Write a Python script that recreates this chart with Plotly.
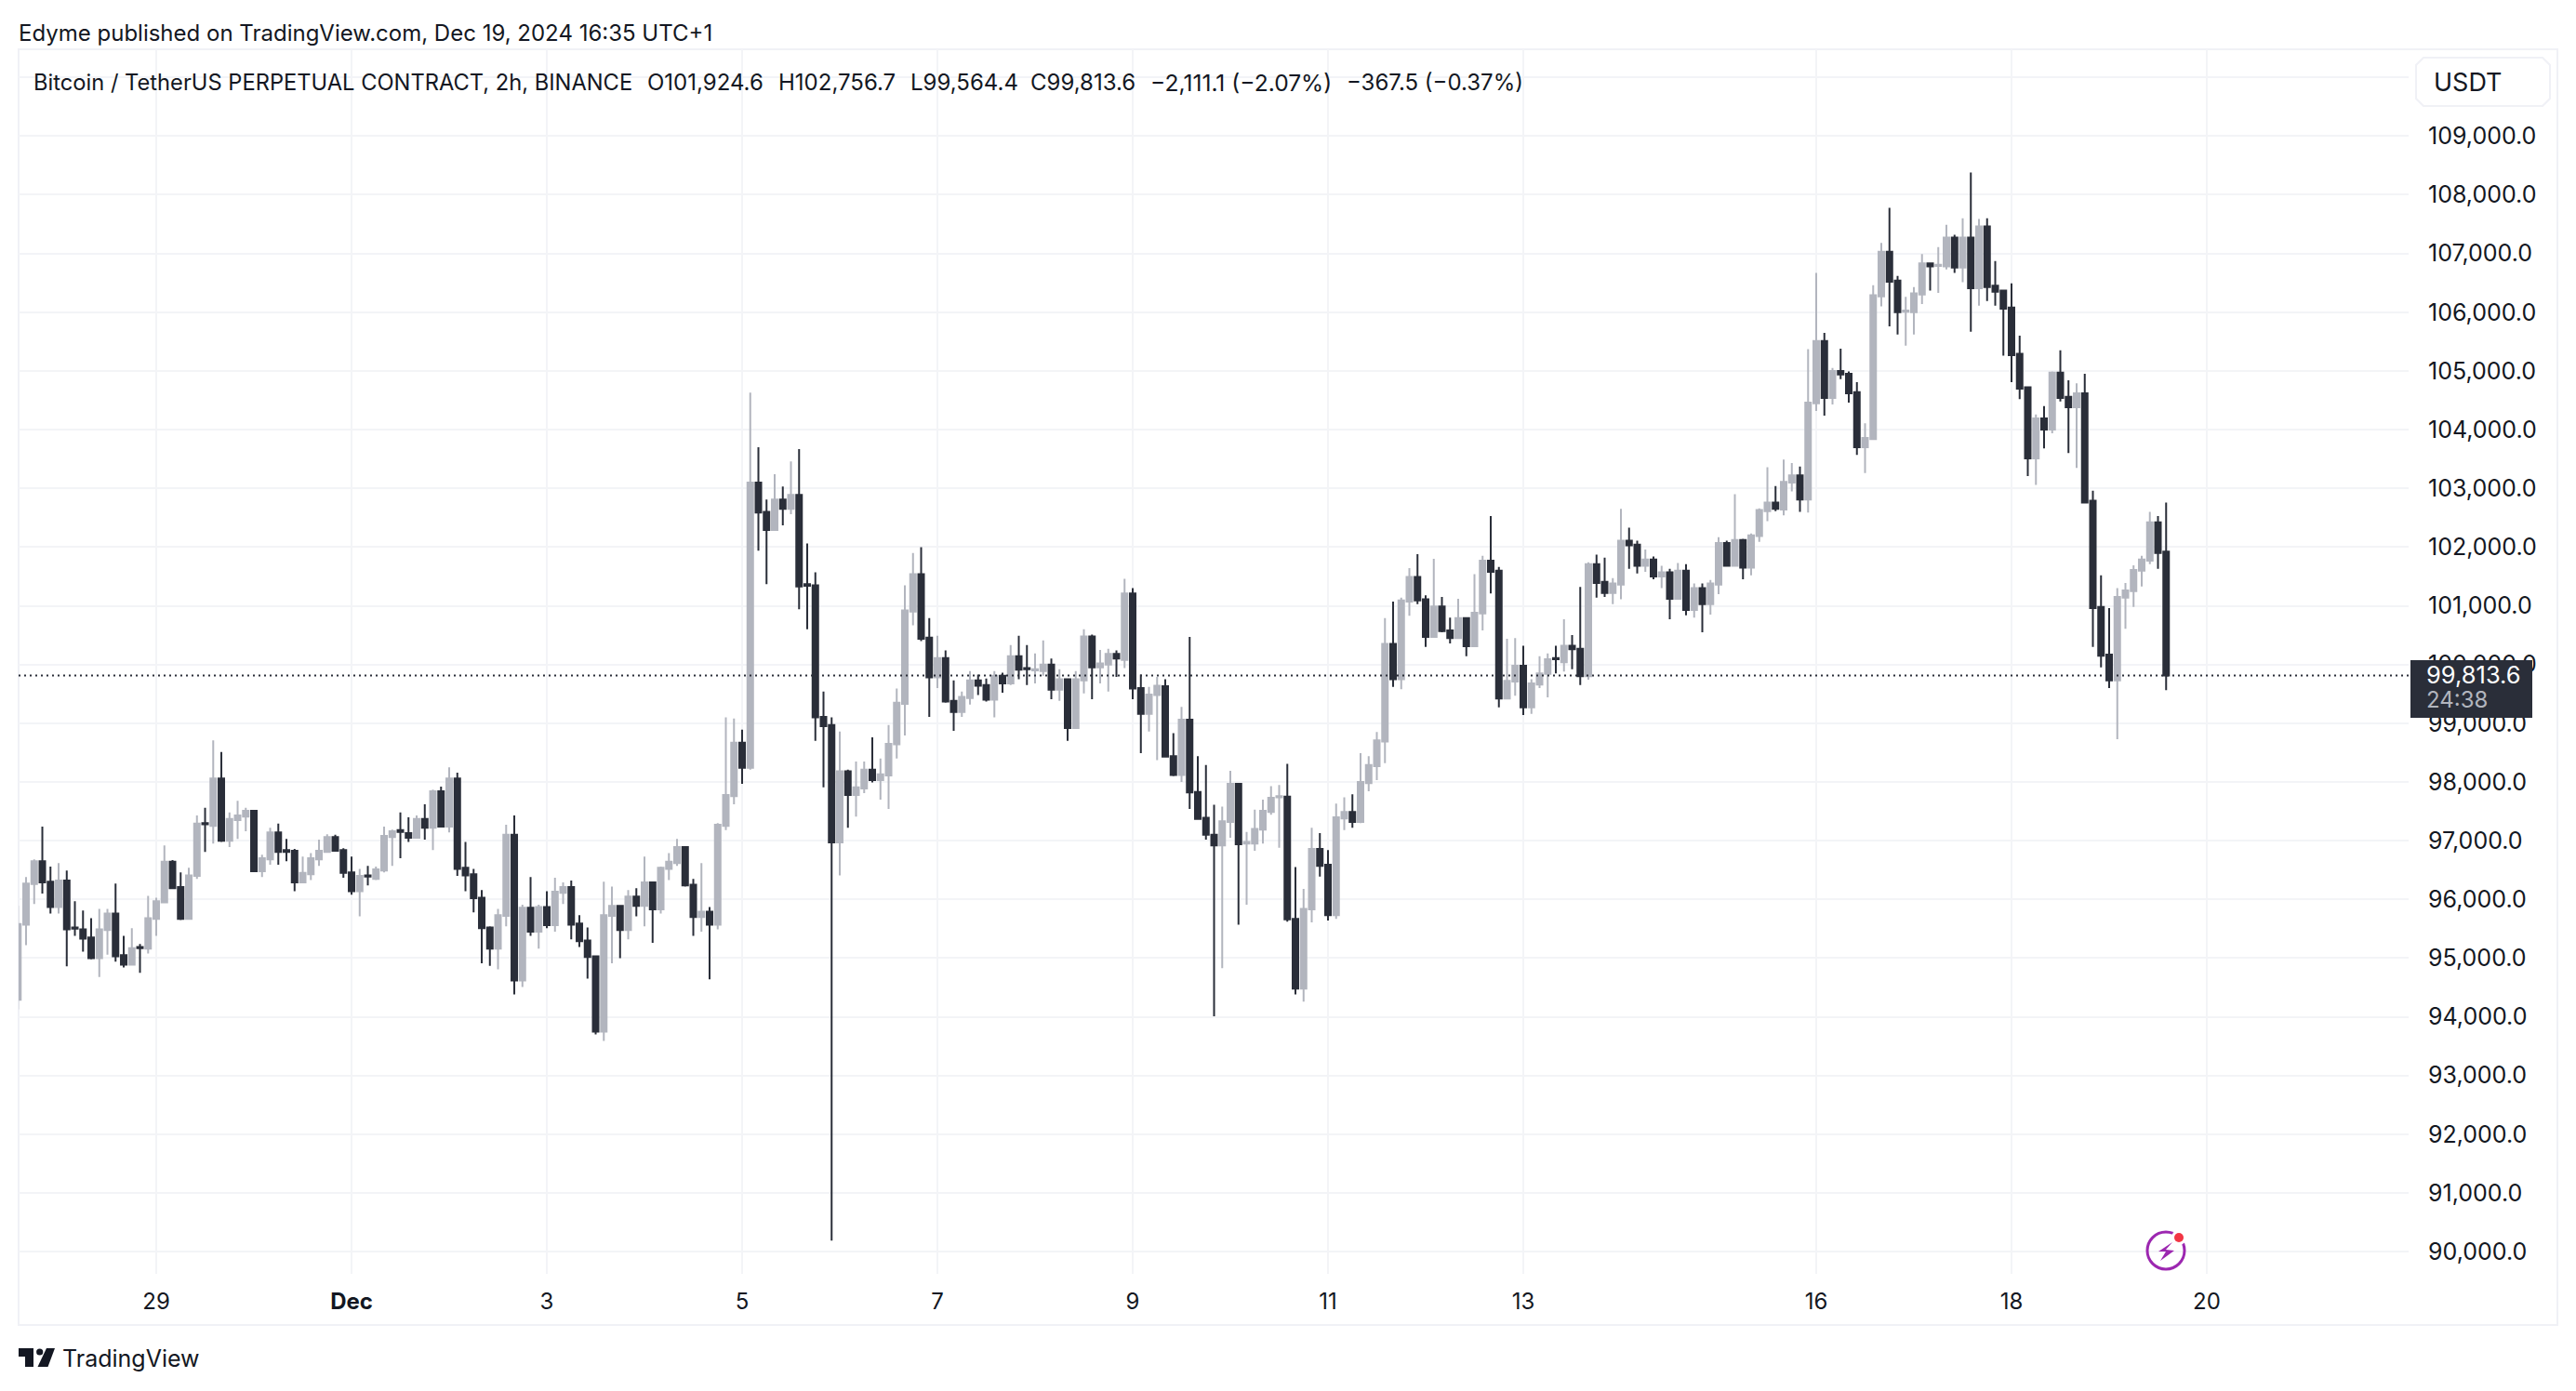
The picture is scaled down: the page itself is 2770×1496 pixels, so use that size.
import pandas as pd
import plotly.graph_objects as go

W, H = 2770, 1496
L_PX, R_PX, T_PX, B_PX = 20, 2590, 53, 1370

open_ = [
 94290,95570,96260,96650,96300,95870,96320,95520,95490,95350,
 95000,95480,95760,95050,94890,95190,95160,95670,95950,96640,
 96210,95670,96400,97300,97250,98060,97000,97350,97410,97510,
 96480,96680,97140,96840,96830,96290,96430,96680,96810,97060,
 96840,96460,96140,96410,96350,96490,97060,97180,97130,97050,
 97370,97220,97840,97240,98060,96540,96430,96030,95520,95160,
 95720,97100,94620,95860,95450,95870,95560,96110,96210,95590,
 95300,95030,93750,95720,95890,95480,96050,95890,96290,95830,
 96520,96620,96890,96250,95700,95790,95570,97250,97760,98670,
 98240,103100,102600,102290,102810,102650,102890,101370,101350,99110,
 98970,96970,98180,97780,97890,98210,98030,98110,98640,99330,
 100900,101540,100460,99780,100110,99380,99190,99430,99730,99650,
 99400,99810,99680,100140,99940,99900,99890,100000,99570,99750,
 98920,99730,100480,99950,100000,100180,100080,101210,99600,99160,
 99480,99630,98440,98120,99060,97830,97390,97100,96920,97320,
 97970,96950,96950,97190,97490,97740,97750,95670,94480,95830,
 96860,96590,95730,97380,97490,97320,97980,98270,98690,100350,
 99750,101070,101490,101110,100470,100990,100580,100450,100790,100310,
 100870,101770,101600,99420,99710,99980,99270,99660,99840,100110,
 100040,100320,100270,99800,101710,101410,101220,101360,102110,102040,
 101680,101790,101500,101570,101120,101600,100930,101300,101030,101360,
 102070,101680,102120,101650,102190,102610,102760,102640,103100,103220,
 102810,104450,105510,104540,105000,104950,104640,103700,103840,106270,
 107030,106540,106010,106000,106300,106830,106790,106780,107270,106760,
 107270,106410,107460,106450,106370,106080,105290,104720,103510,104190,
 104000,104970,104560,104380,104620,102790,100980,100170,99730,101140,
 101250,101600,101770,102420,101924.6]

high = [
 95890,96380,96680,97240,96560,96620,96490,95970,95810,95680,
 95840,95840,96270,95380,95510,95240,96060,96030,96920,96670,
 96460,96540,97430,97560,98710,98510,97480,97680,97560,97510,
 96760,97220,97290,97030,96860,96730,96790,97020,97110,97100,
 96870,96730,96520,96570,96560,97240,97190,97480,97400,97430,
 97620,97870,97920,98250,98160,96980,96520,96160,95540,95840,
 97270,97430,95910,96380,95910,96140,96370,96290,96320,95730,
 95520,95030,96300,96220,95890,96160,96190,96730,96300,96560,
 96790,97030,96900,96350,96620,95870,97300,99100,99080,98890,
 104630,103700,102810,103240,103030,103460,103670,102060,101570,99540,
 99100,98860,98210,98350,98350,98760,98400,98970,99590,101350,
 101900,102000,100790,100490,100240,99730,99540,99890,99830,99760,
 99890,99860,100330,100490,100330,100190,100410,100100,99920,99760,
 99890,100600,100510,100250,100270,100240,101460,101300,99830,99620,
 99790,99750,98830,99280,100470,98440,98290,97610,97580,98190,
 97970,97150,97530,97700,97930,97950,98310,96550,96180,97220,
 97130,96840,97630,97740,97790,98490,98440,98850,100790,101070,
 101140,101640,101880,101180,101800,101150,100800,101120,100790,101540,
 101850,102530,101660,100440,100450,100320,99750,100140,100190,100320,
 100770,100500,101320,101740,101870,101820,101470,102650,102330,102110,
 101960,101840,101680,101630,101730,101710,101380,101380,101440,102170,
 102110,102900,102140,102230,102660,103360,103040,103490,103430,103370,
 105370,106670,105650,105050,105380,104990,104810,104110,106460,107180,
 107780,106620,106260,106430,106990,106830,107110,107490,107320,107600,
 108380,107590,107600,106870,106380,106490,105600,104720,104260,104400,
 104990,105350,104840,104790,104950,102960,101520,100960,101300,101390,
 101690,101850,102600,102530,102756.7]

low = [
 94130,95220,95920,96100,95760,95760,94860,95380,95110,94980,
 94680,95060,94940,94840,94890,94750,95080,95380,95950,96190,
 95650,95670,96350,96810,96950,96980,96890,97030,97160,96480,
 96380,96590,96590,96650,96140,96290,96330,96570,96810,96830,
 96370,96080,95710,96240,96330,96460,96570,96700,96980,97050,
 97020,96840,97240,97140,96400,96140,95780,94910,94870,94810,
 95540,94380,94510,95380,95160,95510,95450,95920,95320,95190,
 94650,93700,93590,94910,95000,95320,95710,95540,95260,95760,
 96330,96570,96220,95380,95450,94640,95490,97180,97620,97970,
 98210,101940,101370,102290,102370,102560,100940,100600,98700,97910,
 90190,96410,97220,97410,97810,97990,97700,97540,98400,98790,
 100670,100400,99110,99600,99350,98870,99110,99320,99480,99370,
 99100,99520,99650,99750,99650,99680,99810,99410,99380,98700,
 98920,99510,99410,99680,99540,99790,99940,99410,98490,98860,
 98370,98430,98100,98000,97540,97360,97020,94010,94830,97050,
 95570,95910,96830,96950,97440,96880,95620,94380,94260,95610,
 96390,95640,95670,97180,97220,97300,97840,98030,98320,99620,
 99580,100830,101030,100300,100470,100550,100360,100440,100140,100310,
 100580,101210,99270,99420,99470,99140,99160,99600,99440,99850,
 99880,99920,99650,99740,101140,101150,101030,101110,101630,101550,
 101580,101450,101300,100770,101120,100840,100800,100550,100850,101200,
 101680,101680,101450,101520,102090,102440,102610,102540,102950,102600,
 102590,104320,104240,104430,104860,104460,103570,103260,103830,106100,
 105760,105620,105430,105620,106140,106370,106330,106730,106670,106510,
 105670,106110,106190,106110,105260,104810,104520,103210,103060,103680,
 103940,104480,103600,103350,102760,100300,99950,99600,98730,100610,
 100980,101330,101710,101630,99564.4]

close = [
 95580,96270,96650,96290,95870,96320,95490,95500,95330,95000,
 95490,95760,95030,94890,95170,95170,95680,95970,96640,96190,
 95670,96410,97290,97280,98060,97000,97370,97430,97510,96480,
 96700,97140,96810,96810,96290,96450,96700,96830,97060,96830,
 96450,96140,96400,96390,96510,97080,97160,97150,97050,97370,
 97220,97840,97240,98060,96520,96410,96020,95510,95160,95730,
 97100,94620,95860,95450,95870,95560,96130,96210,95570,95290,
 95020,93750,95730,95890,95480,96050,95890,96290,95830,96540,
 96640,96890,96240,95700,95790,95570,97270,97780,98670,98240,
 103100,102590,102290,102810,102650,102890,101330,101340,99100,98950,
 96970,98180,97780,97910,98210,98030,98130,98650,99350,100920,
 101540,100440,99780,100110,99370,99190,99450,99730,99640,99400,
 99810,99680,100140,99910,99920,99920,100000,99570,99750,98920,
 99750,100480,99950,100020,100180,100100,101210,99590,99160,99490,
 99640,98430,98120,99060,97820,97370,97100,96920,97330,97970,
 96940,96980,97200,97510,97730,97760,95660,94480,95840,96860,
 96570,95730,97400,97490,97320,98000,98290,98710,100350,99750,
 101090,101490,101090,100470,100990,100570,100450,100790,100310,100880,
 101770,101580,99420,99720,99980,99270,99680,99850,100090,100090,
 100320,100260,99800,101710,101390,101220,101380,102110,102030,101680,
 101790,101500,101570,101120,101600,100930,101300,101030,101380,102070,
 101680,102120,101650,102200,102630,102760,102650,103110,103220,102810,
 104460,105510,104540,105000,104940,104620,103700,103860,106290,107030,
 106520,106000,106030,106320,106830,106780,106810,107270,106760,107270,
 106410,107460,106430,106350,106060,105270,104700,103510,104190,104000,
 104970,104540,104380,104620,102760,100960,100150,99730,101150,101260,
 101610,101790,102420,101900,99813.6]

times = pd.date_range("2024-11-27 14:00", periods=len(open_), freq="2h")

x_tick_dates = ["2024-11-29","2024-12-01","2024-12-03","2024-12-05","2024-12-07","2024-12-09",
                "2024-12-11","2024-12-13","2024-12-16","2024-12-18","2024-12-20"]
x_tick_text = ["29","<b>Dec</b>","3","5","7","9","11","13","16","18","20"]
y_tick_vals = list(range(90000, 111000, 1000))
y_tick_text = [f"{v:,.1f}" if v < 110000 else "" for v in y_tick_vals]

DARK, GREY, GRID, BORDER, TEXT = "#2A2E39", "#B2B5BE", "#F3F4F7", "#F0F1F6", "#131722"
FONT = "Inter"
last_price = close[-1]


def px(x):
    return x / W


def py(y):
    return 1 - y / H


def paper_rect(x0, y0, x1, y1, **kw):
    return dict(type="rect", xref="paper", yref="paper", x0=px(x0), x1=px(x1), y0=py(y0), y1=py(y1), **kw)


def paper_circle(cx, cy, r, **kw):
    return dict(type="circle", xref="paper", yref="paper", x0=px(cx - r), x1=px(cx + r), y0=py(cy + r), y1=py(cy - r), **kw)


def paper_path(pts, **kw):
    d = "M " + " L ".join(f"{px(a):.6f},{py(b):.6f}" for a, b in pts) + " Z"
    return dict(type="path", xref="paper", yref="paper", path=d, **kw)


def text(x, y, s, size=24, color=TEXT, anchor="left"):
    return dict(xref="paper", yref="paper", x=px(x), y=py(y), text=s, showarrow=False,
                xanchor=anchor, yanchor="middle", align="left", xshift=-2,
                font=dict(family=FONT, size=size, color=color))


fig = go.Figure(go.Candlestick(
    x=times, open=open_, high=high, low=low, close=close,
    increasing=dict(line=dict(color=GREY, width=2), fillcolor=GREY),
    decreasing=dict(line=dict(color=DARK, width=2), fillcolor=DARK),
    whiskerwidth=0, showlegend=False,
))

shapes = [
    # panel frame
    paper_rect(20, 53, 2750, 1425, line=dict(color=BORDER, width=2), fillcolor="rgba(0,0,0,0)", layer="below"),
    # last price line
    dict(type="line", xref="paper", yref="y", x0=px(20), x1=px(2592), y0=last_price, y1=last_price,
         line=dict(color=DARK, width=2, dash="2px,4px")),
    # price tag
    paper_rect(2592, 710, 2723, 772, line=dict(width=0), fillcolor=DARK),
    # USDT button
    dict(type="path", xref="paper", yref="paper",
         path=paper_path([(2606, 62), (2734, 62), (2742, 70), (2742, 106), (2734, 114),
                          (2606, 114), (2598, 106), (2598, 70)])["path"],
         line=dict(color=BORDER, width=2), fillcolor="#FFFFFF"),
    # lightning icon
    paper_circle(2329, 1345, 20, line=dict(color="#9C27B0", width=3), fillcolor="rgba(255,255,255,0)"),
    paper_path([(2336, 1336), (2321, 1346), (2329, 1346), (2323, 1356), (2338, 1345), (2329, 1344)],
               line=dict(width=0), fillcolor="#9C27B0"),
    paper_circle(2343, 1331, 8, line=dict(width=0), fillcolor="#FFFFFF"),
    paper_circle(2343, 1331, 5, line=dict(width=0), fillcolor="#F23645"),
    # logo
    paper_path([(20, 1450), (36, 1450), (36, 1470), (27, 1470), (27, 1459), (20, 1459)],
               line=dict(width=0), fillcolor=TEXT),
    paper_circle(42.7, 1454, 3.6, line=dict(width=0), fillcolor=TEXT),
    paper_path([(50, 1450), (59, 1450), (51.5, 1470), (40.5, 1470)], line=dict(width=0), fillcolor=TEXT),
]

annotations = [
    text(20, 35, "Edyme published on TradingView.com, Dec 19, 2024 16:35 UTC+1"),
    text(36, 89, "Bitcoin / TetherUS PERPETUAL CONTRACT, 2h, BINANCE", size=23.7),
    text(696, 89, "O101,924.6"),
    text(837, 89, "H102,756.7"),
    text(979, 89, "L99,564.4"),
    text(1108, 89, "C99,813.6"),
    text(1237, 89, "−2,111.1 (−2.07%)", size=24.6),
    text(1448, 89, "−367.5 (−0.37%)"),
    text(2617, 88, "USDT", size=27),
    text(2609, 725, f"{last_price:,.1f}", size=25.5, color="#FFFFFF"),
    text(2609, 752, "24:38", color="#B2B5BE"),
    text(67, 1461, "TradingView", size=25),
]

fig.update_layout(
    width=W, height=H, autosize=False,
    margin=dict(l=0, r=0, t=0, b=0),
    paper_bgcolor="#FFFFFF", plot_bgcolor="#FFFFFF",
    font=dict(family=FONT, size=24, color=TEXT),
    showlegend=False,
    boxgap=0.3, boxgroupgap=0.02,
    shapes=shapes, annotations=annotations,
    xaxis=dict(
        domain=[L_PX / W, R_PX / W], type="date", rangeslider=dict(visible=False),
        range=["2024-11-27 14:10", "2024-12-22 01:36"],
        tickmode="array", tickvals=x_tick_dates, ticktext=x_tick_text,
        showgrid=True, gridcolor=GRID, gridwidth=2, zeroline=False, showline=False,
        ticks="", ticklabelstandoff=13, tickfont=dict(family=FONT, size=24, color=TEXT),
    ),
    yaxis=dict(
        domain=[1 - B_PX / H, 1 - T_PX / H], side="right", anchor="x",
        range=[89623, 110478], tickmode="array", tickvals=y_tick_vals, ticktext=y_tick_text,
        showgrid=True, gridcolor=GRID, gridwidth=2, zeroline=False, showline=False,
        ticks="", ticklabelstandoff=20, tickfont=dict(family=FONT, size=25, color=TEXT),
    ),
)

fig.write_html("out.html", config=dict(displayModeBar=False),
               post_script="document.body.style.margin='0';document.documentElement.style.overflow='hidden';")
